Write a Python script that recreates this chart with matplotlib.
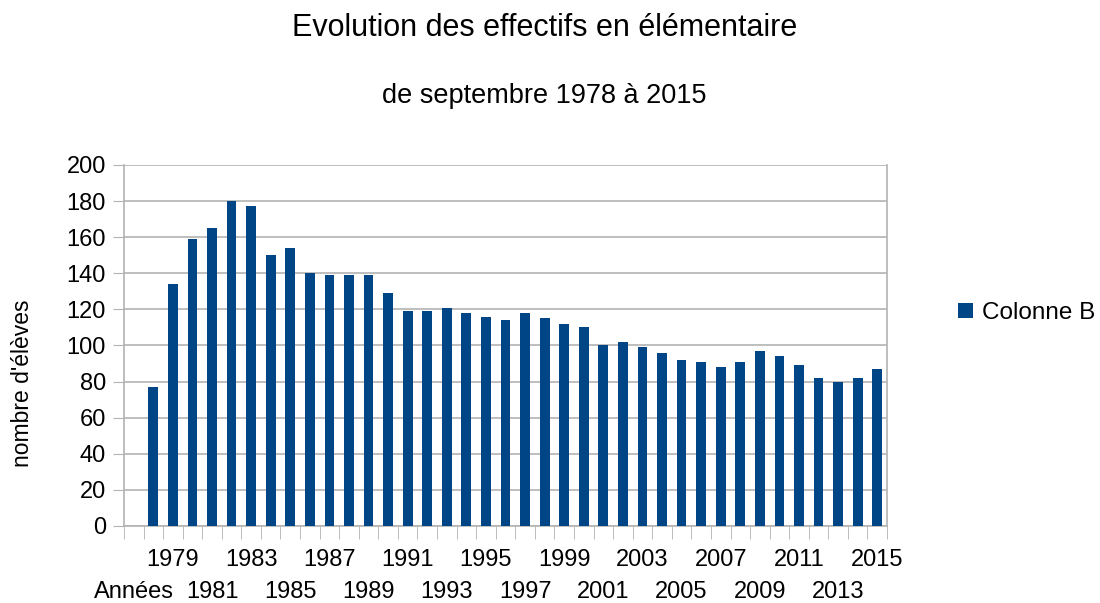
import numpy as np
import matplotlib
matplotlib.use('Agg')
import matplotlib.pyplot as plt

plt.rcParams['font.family'] = ['Liberation Sans', 'DejaVu Sans']

# data
years = list(range(1978, 2016))
effectifs = [77, 134, 159, 165, 180, 177, 150, 154, 140, 139,
             139, 139, 129, 119, 119, 121, 118, 116, 114, 118,
             115, 112, 110, 100, 102, 99, 96, 92, 91, 88,
             91, 97, 94, 89, 82, 80, 82, 87]
categories = ["Années"] + [str(y) for y in years]
y_ticks = list(range(0, 201, 20))

bar_color = '#004586'
grid_color = '#b3b3b3'

fig = plt.figure(figsize=(11, 6.03), dpi=100)
ax = fig.add_axes([0.1127, 0.1277, 0.8064 - 0.1127, 0.7264 - 0.1277])

n = len(categories)
pos = np.arange(n)
vals = [np.nan] + effectifs
ax.bar(pos, vals, width=0.5, color=bar_color, label='Colonne B', zorder=3)

ax.set_xlim(-0.5, n - 0.5)
ax.set_ylim(0, 200)
ax.set_yticks(y_ticks)
ax.tick_params(axis='y', length=8, color=grid_color, labelsize=17, pad=5)

# staggered labels, every other category shown, on two rows
row1 = [i for i in range(0, n, 2) if (i // 2) % 2]
row2 = [i for i in range(0, n, 2) if not (i // 2) % 2]
ax.set_xticks(row1, [categories[i] for i in row1])
ax.set_xticks(np.arange(-0.5, n, 1.0), minor=True)
ax.tick_params(axis='x', which='major', length=0, labelsize=17, pad=16.5)
ax.tick_params(axis='x', which='minor', length=9, color=grid_color)

sec = ax.secondary_xaxis('bottom')
sec.set_xticks(row2, [categories[i] for i in row2])
sec.tick_params(axis='x', length=0, labelsize=17, pad=39.5)
sec.spines['bottom'].set_visible(False)

ax.grid(axis='y', color=grid_color, linewidth=1.2, zorder=0)
for side in ['left', 'right', 'bottom']:
    ax.spines[side].set_color(grid_color)
    ax.spines[side].set_linewidth(1.2)
ax.spines['top'].set_visible(False)

ax.set_ylabel("nombre d'élèves", fontsize=16.5)
ax.yaxis.set_label_coords(-0.118, 0.396)

fig.text(0.495, 0.953, "Evolution des effectifs en élémentaire", ha='center', va='center', fontsize=22)
fig.text(0.495, 0.84, "de septembre 1978 à 2015", ha='center', va='center', fontsize=19.5)

fig.legend(loc='center left', bbox_to_anchor=(0.851, 0.481), frameon=False, fontsize=17.5,
           handlelength=0.6, handleheight=0.6, handletextpad=0.4)

fig.savefig('out.png', dpi=100)
